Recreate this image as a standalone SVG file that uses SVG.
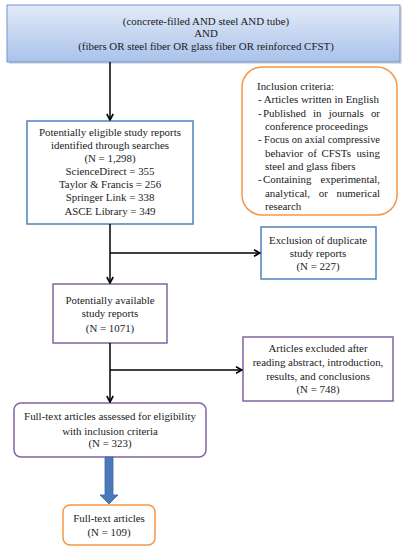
<svg xmlns="http://www.w3.org/2000/svg" width="410" height="550" viewBox="0 0 410 550">
<defs>
<linearGradient id="gTop" x1="0" y1="0" x2="0" y2="1">
<stop offset="0" stop-color="#e3ebf8"/>
<stop offset="1" stop-color="#a9c2ea"/>
</linearGradient>
<marker id="arr" viewBox="0 0 10 10" refX="9" refY="5" markerWidth="8" markerHeight="8" markerUnits="userSpaceOnUse" orient="auto">
<path d="M1.5,1 L9,5 L1.5,9" fill="none" stroke="#000" stroke-width="2"/>
</marker>
</defs>
<style>
text{font-family:"Liberation Serif","Times New Roman",serif;font-size:10.9px;fill:#1a1a1a;}
.c{text-anchor:middle;}
.e{text-anchor:end;}
.blue{fill:#fff;stroke:#4f81bd;stroke-width:1.5;}
.purple{fill:#fff;stroke:#8064a2;stroke-width:1.5;}
.orange{fill:#fff;stroke:#f79646;stroke-width:1.5;}
.conn{stroke:#000;stroke-width:1.5;fill:none;marker-end:url(#arr);}
</style>
<rect width="410" height="550" fill="#fff"/>
<g id="query">
<rect x="9" y="7" width="393" height="57" fill="#c8c8c8" opacity="0.6"/>
<rect x="7" y="5" width="393" height="57" fill="url(#gTop)" stroke="#6f95cf" stroke-width="1"/>
<text class="c" x="206" y="25">(concrete-filled  AND steel AND tube)</text>
<text class="c" x="206" y="37">AND</text>
<text class="c" x="206" y="50">(fibers OR steel fiber OR glass fiber OR reinforced CFST)</text>
</g>
<g id="inclusion">
<rect x="242" y="67" width="155" height="148" rx="20" ry="20" class="orange"/>
<text x="257" y="90">Inclusion criteria:</text>
<text x="258" y="103">- Articles written in English</text>
<text x="258" y="117">-</text>
<text x="263" y="117">Published</text>
<text x="313" y="117">in</text>
<text x="328.7" y="117">journals</text>
<text class="e" x="380" y="117">or</text>
<text x="265" y="130">conference proceedings</text>
<text x="258" y="143" textLength="122" lengthAdjust="spacingAndGlyphs">- Focus on axial compressive</text>
<text x="265" y="157">behavior</text>
<text x="307.7" y="157">of</text>
<text x="321.4" y="157">CFSTs</text>
<text class="e" x="380" y="157">using</text>
<text x="265" y="170">steel and glass fibers</text>
<text x="258" y="183">-</text>
<text x="263" y="183">Containing</text>
<text class="e" x="380" y="183">experimental,</text>
<text x="265" y="197">analytical,</text>
<text x="318.7" y="197">or</text>
<text class="e" x="380" y="197">numerical</text>
<text x="265" y="210">research</text>
</g>
<g id="identified">
<rect x="27" y="121" width="166" height="103" class="blue"/>
<text class="c" x="110" y="136">Potentially eligible study reports</text>
<text class="c" x="110" y="149">identified through searches</text>
<text class="c" x="110" y="162">(N = 1,298)</text>
<text class="c" x="110" y="175">ScienceDirect  = 355</text>
<text class="c" x="110" y="188">Taylor &amp; Francis = 256</text>
<text class="c" x="110" y="201">Springer Link = 338</text>
<text class="c" x="110" y="215">ASCE Library = 349</text>
</g>
<g id="duplicates">
<rect x="261" y="227" width="115" height="52" class="blue"/>
<text class="c" x="318" y="244">Exclusion of duplicate</text>
<text class="c" x="318" y="257">study reports</text>
<text class="c" x="318" y="270">(N = 227)</text>
</g>
<g id="available">
<rect x="53" y="284" width="114" height="59" class="purple"/>
<text class="c" x="110" y="304">Potentially available</text>
<text class="c" x="110" y="317">study reports</text>
<text class="c" x="110" y="332">(N = 1071)</text>
</g>
<g id="excluded">
<rect x="243" y="337" width="150" height="64" class="purple"/>
<text class="c" x="318" y="352">Articles excluded after</text>
<text class="c" x="318" y="366">reading abstract, introduction,</text>
<text class="c" x="318" y="380">results, and conclusions</text>
<text class="c" x="318" y="393">(N = 748)</text>
</g>
<g id="assessed">
<rect x="14" y="403" width="192" height="54" rx="7" ry="7" class="purple"/>
<text class="c" x="110" y="420">Full-text articles assessed for eligibility</text>
<text class="c" x="110" y="435">with inclusion criteria</text>
<text class="c" x="110" y="447">(N = 323)</text>
</g>
<g id="final">
<rect x="63" y="505" width="92" height="40" rx="7" ry="7" class="orange"/>
<text class="c" x="109" y="522">Full-text articles</text>
<text class="c" x="109" y="536">(N = 109)</text>
</g>
<g id="connectors">
<path class="conn" d="M110,62 L110,120"/>
<path class="conn" d="M110,224 L110,283"/>
<path class="conn" d="M110,253 L260,253"/>
<path class="conn" d="M110,343 L110,402"/>
<path class="conn" d="M110,370 L242,370"/>
<path d="M105,457 L113,457 L113,495 L118,495 L109,504 L100,495 L105,495 Z" fill="#4a78b8" stroke="#3d6aa8" stroke-width="0.8"/>
</g>
</svg>
